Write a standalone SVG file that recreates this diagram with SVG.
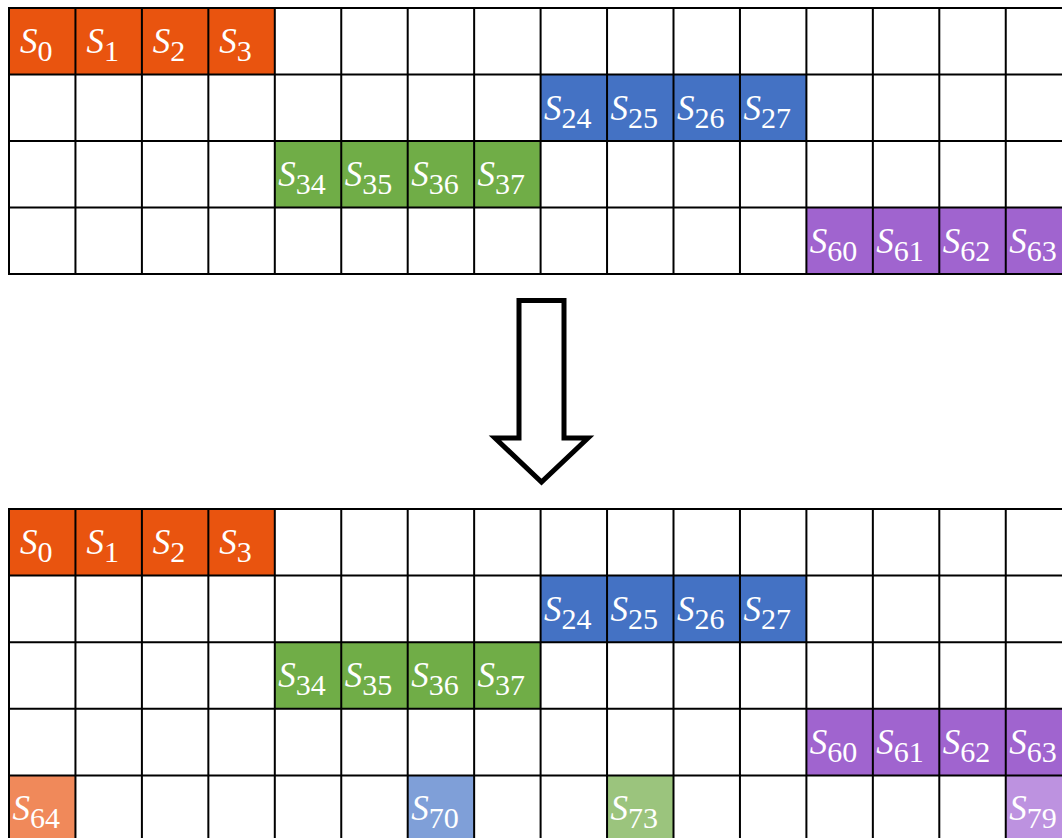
<svg xmlns="http://www.w3.org/2000/svg" width="1062" height="838" viewBox="0 0 1062 838">
  <style>
    .lbl { font-family: "Liberation Serif", "DejaVu Serif", serif; fill: #ffffff; text-anchor: middle; }
    .s { font-style: italic; font-size: 35px; }
    .n { font-size: 30px; }
    .grid { fill: none; stroke: #000000; stroke-width: 2; }
    .or { fill: #E9540F; }
    .bl { fill: #4472C4; }
    .gr { fill: #70AD47; }
    .pu { fill: #A064CF; }
    .or2 { fill: #F0895A; }
    .bl2 { fill: #7F9FD8; }
    .gr2 { fill: #9BC47D; }
    .pu2 { fill: #BD92E0; }
  </style>
  <rect x="0" y="0" width="1062" height="838" fill="#ffffff"/>

  <!-- upper table -->
  <g id="upper">
    <g id="u-s0"><rect class="or" x="9" y="8" width="66.45" height="66.5"/><text class="lbl" x="36.2" y="53"><tspan class="s">S</tspan><tspan class="n" dy="8">0</tspan></text></g>
    <g id="u-s1"><rect class="or" x="75.45" y="8" width="66.45" height="66.5"/><text class="lbl" x="102.65" y="53"><tspan class="s">S</tspan><tspan class="n" dy="8">1</tspan></text></g>
    <g id="u-s2"><rect class="or" x="141.9" y="8" width="66.45" height="66.5"/><text class="lbl" x="169.1" y="53"><tspan class="s">S</tspan><tspan class="n" dy="8">2</tspan></text></g>
    <g id="u-s3"><rect class="or" x="208.35" y="8" width="66.45" height="66.5"/><text class="lbl" x="235.55" y="53"><tspan class="s">S</tspan><tspan class="n" dy="8">3</tspan></text></g>

    <g id="u-s24"><rect class="bl" x="540.6" y="74.5" width="66.45" height="66.5"/><text class="lbl" x="567.8" y="119.5"><tspan class="s">S</tspan><tspan class="n" dy="8">24</tspan></text></g>
    <g id="u-s25"><rect class="bl" x="607.05" y="74.5" width="66.45" height="66.5"/><text class="lbl" x="634.25" y="119.5"><tspan class="s">S</tspan><tspan class="n" dy="8">25</tspan></text></g>
    <g id="u-s26"><rect class="bl" x="673.5" y="74.5" width="66.45" height="66.5"/><text class="lbl" x="700.7" y="119.5"><tspan class="s">S</tspan><tspan class="n" dy="8">26</tspan></text></g>
    <g id="u-s27"><rect class="bl" x="739.95" y="74.5" width="66.45" height="66.5"/><text class="lbl" x="767.15" y="119.5"><tspan class="s">S</tspan><tspan class="n" dy="8">27</tspan></text></g>

    <g id="u-s34"><rect class="gr" x="274.8" y="141" width="66.45" height="66.5"/><text class="lbl" x="302" y="186"><tspan class="s">S</tspan><tspan class="n" dy="8">34</tspan></text></g>
    <g id="u-s35"><rect class="gr" x="341.25" y="141" width="66.45" height="66.5"/><text class="lbl" x="368.45" y="186"><tspan class="s">S</tspan><tspan class="n" dy="8">35</tspan></text></g>
    <g id="u-s36"><rect class="gr" x="407.7" y="141" width="66.45" height="66.5"/><text class="lbl" x="434.9" y="186"><tspan class="s">S</tspan><tspan class="n" dy="8">36</tspan></text></g>
    <g id="u-s37"><rect class="gr" x="474.15" y="141" width="66.45" height="66.5"/><text class="lbl" x="501.35" y="186"><tspan class="s">S</tspan><tspan class="n" dy="8">37</tspan></text></g>

    <g id="u-s60"><rect class="pu" x="806.4" y="207.5" width="66.45" height="66.5"/><text class="lbl" x="833.6" y="252.5"><tspan class="s">S</tspan><tspan class="n" dy="8">60</tspan></text></g>
    <g id="u-s61"><rect class="pu" x="872.85" y="207.5" width="66.45" height="66.5"/><text class="lbl" x="900.05" y="252.5"><tspan class="s">S</tspan><tspan class="n" dy="8">61</tspan></text></g>
    <g id="u-s62"><rect class="pu" x="939.3" y="207.5" width="66.45" height="66.5"/><text class="lbl" x="966.5" y="252.5"><tspan class="s">S</tspan><tspan class="n" dy="8">62</tspan></text></g>
    <g id="u-s63"><rect class="pu" x="1005.75" y="207.5" width="66.45" height="66.5"/><text class="lbl" x="1032.95" y="252.5"><tspan class="s">S</tspan><tspan class="n" dy="8">63</tspan></text></g>

    <path class="grid" d="M9,8 H1062 M9,74.5 H1062 M9,141 H1062 M9,207.5 H1062 M9,274 H1062
      M9,7 V275 M75.45,8 V274 M141.9,8 V274 M208.35,8 V274 M274.8,8 V274 M341.25,8 V274
      M407.7,8 V274 M474.15,8 V274 M540.6,8 V274 M607.05,8 V274 M673.5,8 V274 M739.95,8 V274
      M806.4,8 V274 M872.85,8 V274 M939.3,8 V274 M1005.75,8 V274"/>
  </g>

  <!-- transition arrow -->
  <g id="arrow">
    <polygon points="519,300.5 564,300.5 564,438 588,438 541.5,482 495,438 519,438" fill="#ffffff" stroke="#000000" stroke-width="5" stroke-linejoin="miter"/>
  </g>

  <!-- lower table -->
  <g id="lower">
    <g id="l-s0"><rect class="or" x="9" y="509" width="66.45" height="66.6"/><text class="lbl" x="36.2" y="554"><tspan class="s">S</tspan><tspan class="n" dy="8">0</tspan></text></g>
    <g id="l-s1"><rect class="or" x="75.45" y="509" width="66.45" height="66.6"/><text class="lbl" x="102.65" y="554"><tspan class="s">S</tspan><tspan class="n" dy="8">1</tspan></text></g>
    <g id="l-s2"><rect class="or" x="141.9" y="509" width="66.45" height="66.6"/><text class="lbl" x="169.1" y="554"><tspan class="s">S</tspan><tspan class="n" dy="8">2</tspan></text></g>
    <g id="l-s3"><rect class="or" x="208.35" y="509" width="66.45" height="66.6"/><text class="lbl" x="235.55" y="554"><tspan class="s">S</tspan><tspan class="n" dy="8">3</tspan></text></g>

    <g id="l-s24"><rect class="bl" x="540.6" y="575.6" width="66.45" height="66.6"/><text class="lbl" x="567.8" y="620.6"><tspan class="s">S</tspan><tspan class="n" dy="8">24</tspan></text></g>
    <g id="l-s25"><rect class="bl" x="607.05" y="575.6" width="66.45" height="66.6"/><text class="lbl" x="634.25" y="620.6"><tspan class="s">S</tspan><tspan class="n" dy="8">25</tspan></text></g>
    <g id="l-s26"><rect class="bl" x="673.5" y="575.6" width="66.45" height="66.6"/><text class="lbl" x="700.7" y="620.6"><tspan class="s">S</tspan><tspan class="n" dy="8">26</tspan></text></g>
    <g id="l-s27"><rect class="bl" x="739.95" y="575.6" width="66.45" height="66.6"/><text class="lbl" x="767.15" y="620.6"><tspan class="s">S</tspan><tspan class="n" dy="8">27</tspan></text></g>

    <g id="l-s34"><rect class="gr" x="274.8" y="642.2" width="66.45" height="66.6"/><text class="lbl" x="302" y="687.2"><tspan class="s">S</tspan><tspan class="n" dy="8">34</tspan></text></g>
    <g id="l-s35"><rect class="gr" x="341.25" y="642.2" width="66.45" height="66.6"/><text class="lbl" x="368.45" y="687.2"><tspan class="s">S</tspan><tspan class="n" dy="8">35</tspan></text></g>
    <g id="l-s36"><rect class="gr" x="407.7" y="642.2" width="66.45" height="66.6"/><text class="lbl" x="434.9" y="687.2"><tspan class="s">S</tspan><tspan class="n" dy="8">36</tspan></text></g>
    <g id="l-s37"><rect class="gr" x="474.15" y="642.2" width="66.45" height="66.6"/><text class="lbl" x="501.35" y="687.2"><tspan class="s">S</tspan><tspan class="n" dy="8">37</tspan></text></g>

    <g id="l-s60"><rect class="pu" x="806.4" y="708.8" width="66.45" height="66.6"/><text class="lbl" x="833.6" y="753.8"><tspan class="s">S</tspan><tspan class="n" dy="8">60</tspan></text></g>
    <g id="l-s61"><rect class="pu" x="872.85" y="708.8" width="66.45" height="66.6"/><text class="lbl" x="900.05" y="753.8"><tspan class="s">S</tspan><tspan class="n" dy="8">61</tspan></text></g>
    <g id="l-s62"><rect class="pu" x="939.3" y="708.8" width="66.45" height="66.6"/><text class="lbl" x="966.5" y="753.8"><tspan class="s">S</tspan><tspan class="n" dy="8">62</tspan></text></g>
    <g id="l-s63"><rect class="pu" x="1005.75" y="708.8" width="66.45" height="66.6"/><text class="lbl" x="1032.95" y="753.8"><tspan class="s">S</tspan><tspan class="n" dy="8">63</tspan></text></g>

    <g id="l-s64"><rect class="or2" x="9" y="775.4" width="66.45" height="66.6"/><text class="lbl" x="36.2" y="820.4"><tspan class="s">S</tspan><tspan class="n" dy="8">64</tspan></text></g>
    <g id="l-s70"><rect class="bl2" x="407.7" y="775.4" width="66.45" height="66.6"/><text class="lbl" x="434.9" y="820.4"><tspan class="s">S</tspan><tspan class="n" dy="8">70</tspan></text></g>
    <g id="l-s73"><rect class="gr2" x="607.05" y="775.4" width="66.45" height="66.6"/><text class="lbl" x="634.25" y="820.4"><tspan class="s">S</tspan><tspan class="n" dy="8">73</tspan></text></g>
    <g id="l-s79"><rect class="pu2" x="1005.75" y="775.4" width="66.45" height="66.6"/><text class="lbl" x="1032.95" y="820.4"><tspan class="s">S</tspan><tspan class="n" dy="8">79</tspan></text></g>

    <path class="grid" d="M9,509 H1062 M9,575.6 H1062 M9,642.2 H1062 M9,708.8 H1062 M9,775.4 H1062
      M9,508 V840 M75.45,509 V840 M141.9,509 V840 M208.35,509 V840 M274.8,509 V840 M341.25,509 V840
      M407.7,509 V840 M474.15,509 V840 M540.6,509 V840 M607.05,509 V840 M673.5,509 V840 M739.95,509 V840
      M806.4,509 V840 M872.85,509 V840 M939.3,509 V840 M1005.75,509 V840"/>
  </g>
</svg>
